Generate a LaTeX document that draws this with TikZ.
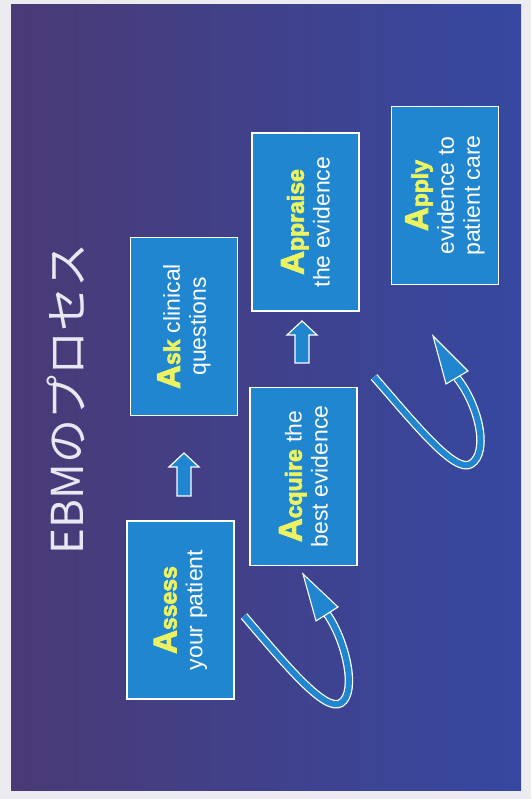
\documentclass[tikz,border=0pt]{standalone}
\usepackage{fontspec}
\setmainfont{Liberation Sans}
\newfontfamily\kwfont[FakeBold=3]{Liberation Sans Bold}
\newfontfamily\cjkfont{Noto Sans CJK JP}
\definecolor{boxblue}{RGB}{32,134,208}
\definecolor{kwyellow}{RGB}{236,242,96}
\definecolor{bgleft}{RGB}{74,58,118}
\definecolor{bgright}{RGB}{54,72,160}
\definecolor{pagegray}{RGB}{236,236,240}
\definecolor{titlecol}{RGB}{232,232,242}
\newcommand\kwd[2]{{\color{kwyellow}\kwfont\fontsize{33}{30}\selectfont #1\fontsize{23}{26}\selectfont #2}}
\tikzset{
  stepbox/.style={draw=white, line width=1.6pt, fill=boxblue, rotate=90,
    minimum width=178pt, minimum height=107pt, inner sep=0pt,
    text=white, align=center, font=\fontsize{23}{26}\selectfont},
  blockarrow/.style={draw=white, line width=1.2pt, fill=boxblue, line join=miter},
  ribbonout/.style={white, line width=8.5pt, line cap=butt},
  ribbonin/.style={boxblue, line width=6pt, line cap=butt},
  ribbonhead/.style={draw=white, line width=1.1pt, fill=boxblue, line join=miter}
}
\begin{document}
\begin{tikzpicture}[x=1pt,y=1pt]
\useasboundingbox (0,0) rectangle (531,799);
\fill[pagegray] (0,0) rectangle (531,799);
\shade[left color=bgleft, right color=bgright] (11,8) rectangle (521,794);

% title
\node[rotate=90, text=titlecol, font=\cjkfont\fontsize{44}{44}\selectfont] (title) at (66,400) {EBMのプロセス};

% boxes
\node[stepbox] (assess) at (180.5,189) {\kwd{A}{ssess}\\your patient};
\node[stepbox] (ask) at (184,472.5) {\kwd{A}{sk} clinical\\questions};
\node[stepbox] (acquire) at (303.5,322.5) {\kwd{A}{cquire} the\\best evidence};
\node[stepbox] (appraise) at (305.5,577) {\kwd{A}{ppraise}\\the evidence};
\node[stepbox] (apply) at (445,603.5) {\kwd{A}{pply}\\evidence to\\patient care};

% small block arrows
\draw[blockarrow] (177,303) -- (191,303) -- (191,332) -- (199,332) -- (184,346) -- (169,332) -- (177,332) -- cycle;
\draw[blockarrow] (295,436) -- (309,436) -- (309,464) -- (317,464) -- (302,478) -- (287,464) -- (295,464) -- cycle;

% curved ribbon arrows
\coordinate (c1s) at (244,183);
\coordinate (c1b) at (327,185);
\draw[ribbonout] (c1s) .. controls (285,135) and (325,86) .. (341,96) .. controls (358,107) and (345,160) .. (c1b);
\draw[ribbonin] (c1s) .. controls (285,135) and (325,86) .. (341,96) .. controls (358,107) and (345,160) .. (c1b);
\draw[ribbonhead] (316,178) -- (303,225) -- (338,192) -- cycle;

\coordinate (c2s) at (374,422);
\coordinate (c2b) at (457,421);
\draw[ribbonout] (c2s) .. controls (415,375) and (455,325) .. (471,335) .. controls (490,347) and (478,395) .. (c2b);
\draw[ribbonin] (c2s) .. controls (415,375) and (455,325) .. (471,335) .. controls (490,347) and (478,395) .. (c2b);
\draw[ribbonhead] (446,415) -- (433,463) -- (468,428) -- cycle;
\end{tikzpicture}
\end{document}
